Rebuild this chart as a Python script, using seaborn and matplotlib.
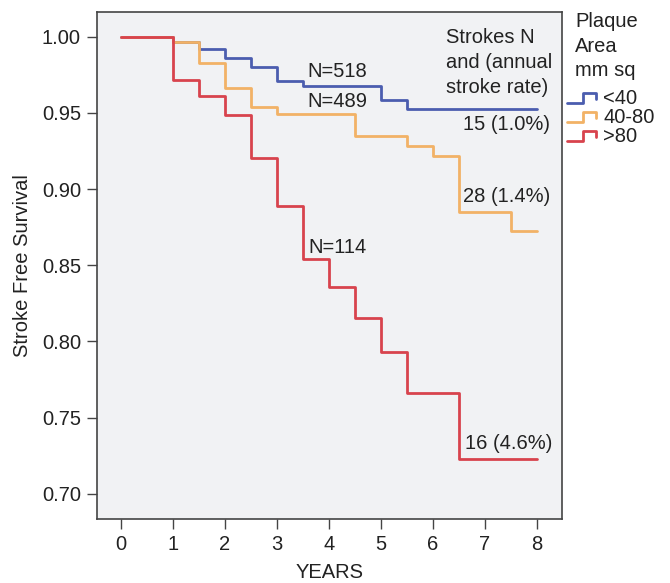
import numpy as np
import pandas as pd
import matplotlib
matplotlib.use("Agg")
import matplotlib.pyplot as plt
from matplotlib.lines import Line2D
from matplotlib.legend_handler import HandlerBase
import seaborn as sns

# ---- data ----
groups = ["<40", "40-80", ">80"]
years_lt40 = [0, 1, 1.5, 2, 2.5, 3, 3.5, 5, 5.5, 8]
surv_lt40 = [1.0, 0.9966, 0.9921, 0.9857, 0.9802, 0.9710, 0.9677, 0.9584, 0.9525, 0.9525]
years_40_80 = [0, 1, 1.5, 2, 2.5, 3, 4.5, 5.5, 6, 6.5, 7.5, 8]
surv_40_80 = [1.0, 0.9966, 0.9828, 0.9660, 0.9536, 0.9492, 0.9350, 0.9284, 0.9216, 0.8847, 0.8725, 0.8725]
years_gt80 = [0, 1, 1.5, 2, 2.5, 3, 3.5, 4, 4.5, 5, 5.5, 6.5, 8]
surv_gt80 = [1.0, 0.9715, 0.9610, 0.9487, 0.9205, 0.8889, 0.8541, 0.8359, 0.8152, 0.7933, 0.7664, 0.7228, 0.7228]
colors = ["#4B5DAF", "#F2B266", "#D8434D"]
x_ticks = [0, 1, 2, 3, 4, 5, 6, 7, 8]
y_ticks = [0.70, 0.75, 0.80, 0.85, 0.90, 0.95, 1.00]
n_labels = ["N=518", "N=489", "N=114"]
rate_labels = ["15 (1.0%)", "28 (1.4%)", "16 (4.6%)"]

df = pd.concat([
    pd.DataFrame({"years": years_lt40, "survival": surv_lt40, "group": groups[0]}),
    pd.DataFrame({"years": years_40_80, "survival": surv_40_80, "group": groups[1]}),
    pd.DataFrame({"years": years_gt80, "survival": surv_gt80, "group": groups[2]}),
], ignore_index=True)

sns.set_theme(style="ticks")
plt.rcParams["font.family"] = ["Liberation Sans", "DejaVu Sans"]
text_color = "#222222"
spine_color = "#444444"
fs = 14.5

fig = plt.figure(figsize=(6.7, 5.83), dpi=100)
ax = fig.add_axes([0.1443, 0.1093, 0.6940, 0.8696])
ax.set_facecolor("#F1F2F4")

sns.lineplot(data=df, x="years", y="survival", hue="group", hue_order=groups,
             palette=dict(zip(groups, colors)), drawstyle="steps-post",
             estimator=None, linewidth=2.0, legend=False, ax=ax)

ax.set_xlim(-0.46, 8.48)
ax.set_ylim(0.6834, 1.0159)
ax.set_xticks(x_ticks)
ax.set_xticklabels([str(t) for t in x_ticks])
ax.set_yticks(y_ticks)
ax.set_yticklabels([f"{t:.2f}" for t in y_ticks])
ax.tick_params(direction="out", length=7.5, width=1.0, color=spine_color,
               labelsize=fs, labelcolor=text_color)
ax.tick_params(axis="y", pad=3.8)
ax.tick_params(axis="x", pad=4.0)
for s in ax.spines.values():
    s.set_color(spine_color)
    s.set_linewidth(1.2)
ax.set_xlabel("YEARS", fontsize=fs, color=text_color, labelpad=6)
ax.set_ylabel("Stroke Free Survival", fontsize=fs, color=text_color, labelpad=7)

# annotations
ax.text(3.59, 0.9769, n_labels[0], fontsize=fs, color=text_color, va="center", ha="left")
ax.text(3.59, 0.9577, n_labels[1], fontsize=fs, color=text_color, va="center", ha="left")
ax.text(3.61, 0.8618, n_labels[2], fontsize=fs, color=text_color, va="center", ha="left")
ax.text(8.26, 0.942, rate_labels[0], fontsize=fs, color=text_color, va="center", ha="right")
ax.text(6.58, 0.895, rate_labels[1], fontsize=fs, color=text_color, va="center", ha="left")
ax.text(6.63, 0.7332, rate_labels[2], fontsize=fs, color=text_color, va="center", ha="left")
ax.text(6.26, 1.0055, "Strokes N\nand (annual\nstroke rate)", fontsize=fs,
        color=text_color, va="top", ha="left", linespacing=1.38)


class StepHandler(HandlerBase):
    def create_artists(self, legend, orig_handle, xdescent, ydescent, width,
                       height, fontsize, trans):
        x0, y0 = -xdescent, -ydescent
        xs = [x0, x0 + 0.55 * width, x0 + 0.55 * width, x0 + width, x0 + width]
        ys = [y0 + 0.1 * height, y0 + 0.1 * height, y0 + 0.75 * height,
              y0 + 0.75 * height, y0 + 0.35 * height]
        ln = Line2D(xs, ys, color=orig_handle.get_color(), linewidth=2.0,
                    transform=trans)
        return [ln]


# legend title placed as text above the legend entries
fig.text(575 / 670, 1 - 12 / 583, "Plaque\nArea\nmm sq", fontsize=fs,
         color=text_color, va="top", ha="left", linespacing=1.38)

handles = [Line2D([], [], color=c) for c in colors]
leg = ax.legend(handles, groups, loc="upper left",
                bbox_to_anchor=(567 / 670, 1 - 89 / 583), bbox_transform=fig.transFigure,
                frameon=False, fontsize=fs, handler_map={Line2D: StepHandler()},
                handlelength=1.45, handletextpad=0.35, labelspacing=0.0,
                borderaxespad=0.0, borderpad=0.0)
for t in leg.get_texts():
    t.set_color(text_color)

fig.savefig("out.png", dpi=100)
